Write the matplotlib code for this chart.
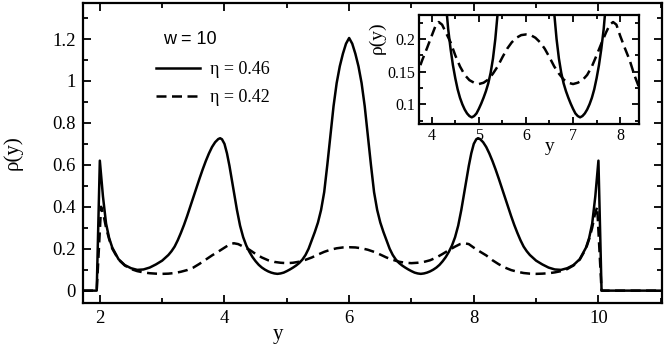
import matplotlib

matplotlib.use("Agg")
import matplotlib.pyplot as plt
from matplotlib.ticker import MultipleLocator, FixedLocator

plt.rcParams["font.family"] = ["Liberation Serif", "DejaVu Serif"]

# ── density profiles (w = 10) ────────────────────────────────────────────────
y_046 = [1.73, 1.95, 2.00, 2.05, 2.10, 2.15, 2.20, 2.30, 2.40, 2.50, 2.60,
         2.70, 2.80, 2.90, 3.00, 3.10, 3.15, 3.20, 3.25, 3.30, 3.35, 3.40,
         3.45, 3.50, 3.55, 3.60, 3.65, 3.70, 3.75, 3.80, 3.85, 3.90, 3.93,
         3.96, 4.00, 4.04, 4.08, 4.12, 4.16, 4.20, 4.25, 4.30, 4.35, 4.40,
         4.45, 4.50, 4.55, 4.60, 4.65, 4.70, 4.75, 4.80, 4.85, 4.90, 4.95,
         5.00, 5.05, 5.10, 5.15, 5.20, 5.25, 5.30, 5.35, 5.40, 5.45, 5.50,
         5.55, 5.60, 5.65, 5.70, 5.75, 5.80, 5.85, 5.90, 5.95, 6.00, 6.05,
         6.10, 6.15, 6.20, 6.25, 6.30, 6.35, 6.40, 6.45, 6.50, 6.55, 6.60,
         6.65, 6.70, 6.75, 6.80, 6.85, 6.90, 6.95, 7.00, 7.05, 7.10, 7.15,
         7.20, 7.25, 7.30, 7.35, 7.40, 7.45, 7.50, 7.55, 7.60, 7.65, 7.70,
         7.75, 7.80, 7.84, 7.88, 7.92, 7.96, 8.00, 8.04, 8.07, 8.10, 8.15,
         8.20, 8.25, 8.30, 8.35, 8.40, 8.45, 8.50, 8.55, 8.60, 8.65, 8.70,
         8.75, 8.80, 8.85, 8.90, 9.00, 9.10, 9.20, 9.30, 9.40, 9.50, 9.60,
         9.70, 9.80, 9.85, 9.90, 9.95, 10.00, 10.05, 11.02]
rho_046 = [0.0, 0.0, 0.62, 0.45, 0.32, 0.25, 0.205, 0.15, 0.122, 0.107, 0.099,
           0.101, 0.11, 0.125, 0.143, 0.17, 0.188, 0.21, 0.24, 0.275, 0.313, 0.355,
           0.40, 0.445, 0.49, 0.535, 0.578, 0.618, 0.654, 0.685, 0.708, 0.723, 0.727,
           0.722, 0.70, 0.655, 0.595, 0.525, 0.455, 0.385, 0.31, 0.255, 0.215, 0.185,
           0.16, 0.14, 0.123, 0.11, 0.10, 0.092, 0.086, 0.082, 0.08, 0.082, 0.086,
           0.093, 0.101, 0.11, 0.12, 0.132, 0.148, 0.17, 0.20, 0.24, 0.28, 0.325,
           0.385, 0.47, 0.60, 0.74, 0.88, 0.99, 1.07, 1.13, 1.178, 1.205, 1.178,
           1.13, 1.07, 0.99, 0.88, 0.74, 0.60, 0.47, 0.385, 0.325, 0.28, 0.24,
           0.20, 0.17, 0.148, 0.132, 0.12, 0.11, 0.101, 0.093, 0.086, 0.082, 0.08,
           0.082, 0.086, 0.092, 0.10, 0.11, 0.123, 0.14, 0.16, 0.185, 0.215, 0.255,
           0.31, 0.385, 0.455, 0.525, 0.595, 0.655, 0.70, 0.722, 0.727, 0.723, 0.708,
           0.685, 0.654, 0.618, 0.578, 0.535, 0.49, 0.445, 0.40, 0.355, 0.313, 0.275,
           0.24, 0.21, 0.188, 0.17, 0.143, 0.125, 0.11, 0.101, 0.099, 0.107, 0.122,
           0.15, 0.205, 0.25, 0.32, 0.45, 0.62, 0.0, 0.0]

y_042 = [1.73, 1.95, 2.02, 2.06, 2.10, 2.15, 2.20, 2.30, 2.40, 2.50, 2.60,
         2.70, 2.80, 2.90, 3.00, 3.10, 3.20, 3.30, 3.40, 3.50, 3.60, 3.70,
         3.80, 3.90, 4.00, 4.08, 4.15, 4.22, 4.30, 4.40, 4.50, 4.60, 4.70,
         4.80, 4.90, 5.00, 5.10, 5.20, 5.30, 5.40, 5.50, 5.60, 5.70, 5.80,
         5.90, 6.00, 6.10, 6.20, 6.30, 6.40, 6.50, 6.60, 6.70, 6.80, 6.90,
         7.00, 7.10, 7.20, 7.30, 7.40, 7.50, 7.60, 7.70, 7.78, 7.85, 7.92,
         8.00, 8.10, 8.20, 8.30, 8.40, 8.50, 8.60, 8.70, 8.80, 8.90, 9.00,
         9.10, 9.20, 9.30, 9.40, 9.50, 9.60, 9.70, 9.80, 9.85, 9.90, 9.94,
         9.98, 10.05, 11.02]
rho_042 = [0.0, 0.0, 0.40, 0.36, 0.30, 0.245, 0.20, 0.148, 0.12, 0.103, 0.093,
           0.087, 0.083, 0.081, 0.080, 0.081, 0.084, 0.09, 0.098, 0.11, 0.128, 0.148,
           0.168, 0.186, 0.205, 0.22, 0.226, 0.222, 0.21, 0.195, 0.175, 0.158, 0.145,
           0.137, 0.133, 0.131, 0.133, 0.138, 0.147, 0.158, 0.172, 0.185, 0.195, 0.202,
           0.206, 0.207, 0.206, 0.202, 0.195, 0.185, 0.172, 0.158, 0.147, 0.138, 0.133,
           0.131, 0.133, 0.137, 0.145, 0.158, 0.175, 0.193, 0.21, 0.222, 0.226, 0.222,
           0.205, 0.186, 0.168, 0.145, 0.126, 0.11, 0.098, 0.09, 0.084, 0.081, 0.080,
           0.081, 0.083, 0.087, 0.093, 0.103, 0.12, 0.148, 0.20, 0.245, 0.30, 0.36,
           0.40, 0.0, 0.0]

main_yticks = [0, 0.2, 0.4, 0.6, 0.8, 1.0, 1.2]
main_ylabels = ["0", "0.2", "0.4", "0.6", "0.8", "1", "1.2"]
main_xticks = [2, 4, 6, 8, 10]
inset_xticks = [4, 5, 6, 7, 8]
inset_yticks = [0.1, 0.15, 0.2]
inset_ylabels = ["0.1", "0.15", "0.2"]

fig = plt.figure(figsize=(6.64, 3.46), dpi=100)
W, H = 664, 346
DASH = (0, (4, 2.2))


def px_axes(l, t, r, b):
    return fig.add_axes([l / W, 1 - b / H, (r - l) / W, (b - t) / H])


def style(ax, size, major, minor):
    ax.tick_params(which="both", direction="in", top=True, right=True,
                   width=1.3, labelsize=size, pad=5)
    ax.tick_params(which="major", length=major)
    ax.tick_params(which="minor", length=minor)
    for sp in ax.spines.values():
        sp.set_linewidth(1.6)


# ── main panel ───────────────────────────────────────────────────────────────
ax = px_axes(83, 3, 662, 303)
l1, = ax.plot(y_046, rho_046, color="black", lw=1.8)
l2, = ax.plot(y_042, rho_042, color="black", lw=1.8, ls=DASH)
ax.set_xlim(1.73, 11.02)
ax.set_ylim(-0.059, 1.372)
ax.set_xticks(main_xticks)
ax.set_yticks(main_yticks)
ax.set_yticklabels(main_ylabels)
ax.xaxis.set_minor_locator(MultipleLocator(1))
ax.yaxis.set_minor_locator(MultipleLocator(0.1))
style(ax, 13.5, 6, 3.5)
ax.set_xlabel("y", fontsize=15)
ax.xaxis.set_label_coords((278 - 83) / 579, -(325 - 303) / 300)
ax.set_ylabel("ρ(y)", fontsize=15)
ax.yaxis.set_label_coords((23 - 83) / 579, 0.5)

fig.text(163 / W, 1 - 39 / H, "w = 10", fontsize=13,
         family=["Liberation Sans", "DejaVu Sans"], ha="left", va="center")
ax.legend([l1, l2], ["η = 0.46", "η = 0.42"], frameon=False, fontsize=13,
          loc="upper left", bbox_to_anchor=(156 / W, 1 - 61 / H),
          bbox_transform=fig.transFigure, handlelength=2.45, handletextpad=0.55,
          labelspacing=0.62, borderaxespad=0, borderpad=0)

# ── inset ────────────────────────────────────────────────────────────────────
ins = px_axes(419, 15, 639, 124)
ins.plot(y_046, rho_046, color="black", lw=1.8)
ins.plot(y_042, rho_042, color="black", lw=1.8, ls=DASH)
ins.set_xlim(3.73, 8.40)
ins.set_ylim(0.0698, 0.2368)
ins.set_xticks(inset_xticks)
ins.set_yticks(inset_yticks)
ins.set_yticklabels(inset_ylabels)
ins.xaxis.set_minor_locator(MultipleLocator(0.5))
ins.yaxis.set_minor_locator(FixedLocator([0.075, 0.125, 0.175, 0.225]))
style(ins, 11.5, 5, 3)
ins.tick_params(pad=3)
ins.set_xlabel("y", fontsize=14)
ins.xaxis.set_label_coords((550 - 419) / 220, -(138 - 124) / 109)
ins.set_ylabel("ρ(y)", fontsize=14)
ins.yaxis.set_label_coords((386 - 419) / 220, (124 - 38) / 109)

fig.savefig("out.png", dpi=100, facecolor="white")
